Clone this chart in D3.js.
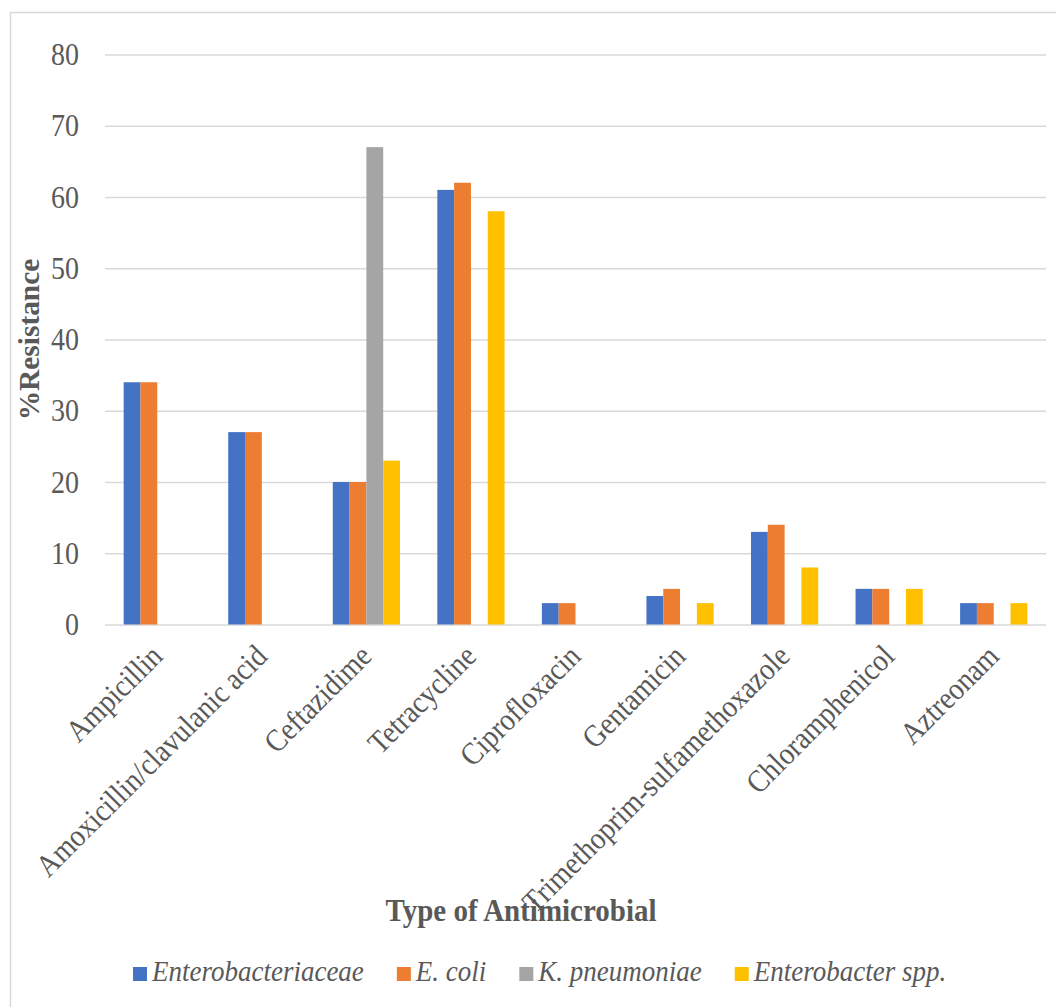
<!DOCTYPE html>
<html>
<head>
<meta charset="utf-8">
<script src="https://cdn.jsdelivr.net/npm/d3@7"></script>
<style>
    body { margin: 0; background: #ffffff; }
    text { font-family: "Liberation Serif", "Times New Roman", serif; fill: #595959; }
    .tick line { stroke: #d9d9d9; stroke-width: 1.5; }
    .domain { display: none; }
</style>
</head>
<body>
<div id="chart"></div>
<script>
// Antimicrobial categories on the x axis
var categories = ["Ampicillin", "Amoxicillin/clavulanic acid", "Ceftazidime", "Tetracycline",
                  "Ciprofloxacin", "Gentamicin", "Trimethoprim-sulfamethoxazole",
                  "Chloramphenicol", "Aztreonam"];

// % resistance for each organism (null = no bar)
var enterobacteriaceae = [34, 27, 20, 61, 3, 4, 13, 5, 3];
var eColi              = [34, 27, 20, 62, 3, 5, 14, 5, 3];
var kPneumoniae        = [null, null, 67, null, null, null, null, null, null];
var enterobacterSpp    = [null, null, 23, 58, null, 3, 8, 5, 3];

var seriesNames = ["Enterobacteriaceae", "E. coli", "K. pneumoniae", "Enterobacter spp."];
var seriesColors = ["#4472C4", "#ED7D31", "#A5A5A5", "#FFC000"];
var yTicks = [0, 10, 20, 30, 40, 50, 60, 70, 80];

var allSeries = [enterobacteriaceae, eColi, kPneumoniae, enterobacterSpp];

var width = 1056, height = 1007;
var plotLeft = 105, plotRight = 1046, plotTop = 54.5, plotBottom = 624.5;
var stretch = " scale(1,1.12)";   // the source picture is a little taller than wide

var svg = d3.select("#chart").append("svg")
    .attr("width", width)
    .attr("height", height);

// chart frame (only left and top edges are visible)
svg.append("rect")
    .attr("x", 10.5).attr("y", 12.5)
    .attr("width", 1200).attr("height", 1200)
    .attr("fill", "none")
    .attr("stroke", "#d9d9d9")
    .attr("stroke-width", 1.5);

var x0 = d3.scaleBand()
    .domain(categories)
    .range([plotLeft, plotRight])
    .paddingInner(0.357)
    .paddingOuter(0.1785);

var x1 = d3.scaleBand()
    .domain(seriesNames)
    .range([0, x0.bandwidth()]);

var y = d3.scaleLinear()
    .domain([0, 80])
    .range([plotBottom, plotTop]);

// gridlines + y tick labels
var yAxis = svg.append("g")
    .attr("transform", "translate(" + plotLeft + ",0)")
    .call(d3.axisLeft(y).tickValues(yTicks).tickSize(-(plotRight - plotLeft)).tickPadding(26));
yAxis.selectAll(".tick text")
    .style("font-size", "28px")
    .attr("fill", "#595959")
    .attr("transform", stretch);

// bars
var rows = [];
categories.forEach(function(c, i) {
    allSeries.forEach(function(s, j) {
        if (s[i] != null) rows.push({cat: c, series: seriesNames[j], value: s[i], color: seriesColors[j]});
    });
});

svg.append("g").selectAll("rect")
    .data(rows)
    .enter()
    .append("rect")
    .attr("x", function(d) { return x0(d.cat) + x1(d.series); })
    .attr("y", function(d) { return y(d.value); })
    .attr("width", x1.bandwidth())
    .attr("height", function(d) { return y(0) - y(d.value); })
    .attr("fill", function(d) { return d.color; });

// rotated category labels
svg.append("g").selectAll("text")
    .data(categories)
    .enter()
    .append("text")
    .attr("transform", function(d) {
        return "translate(" + (x0(d) + x0.bandwidth() / 2 + 7) + "," + 658 + ") rotate(-45)" + stretch;
    })
    .attr("text-anchor", "end")
    .style("font-size", "28px")
    .text(function(d) { return d; });

// axis titles
svg.append("text")
    .attr("transform", "translate(521,921)" + stretch)
    .attr("text-anchor", "middle")
    .style("font-size", "29px")
    .style("font-weight", "bold")
    .text("Type of Antimicrobial");

svg.append("text")
    .attr("transform", "translate(39," + ((plotTop + plotBottom) / 2) + ") rotate(-90) scale(1.05,1.08)")
    .attr("text-anchor", "middle")
    .style("font-size", "28px")
    .style("font-weight", "bold")
    .text("%Resistance");

// legend
var legend = svg.append("g");
var lx = 133;
seriesNames.forEach(function(name, i) {
    legend.append("rect")
        .attr("x", lx).attr("y", 967)
        .attr("width", 14).attr("height", 14)
        .attr("fill", seriesColors[i]);
    var t = legend.append("text")
        .attr("transform", "translate(" + (lx + 19) + ",981)" + stretch)
        .style("font-size", "27px")
        .style("font-style", "italic")
        .text(name);
    lx += 19 + t.node().getComputedTextLength() + 33;
});
</script>
</body>
</html>
